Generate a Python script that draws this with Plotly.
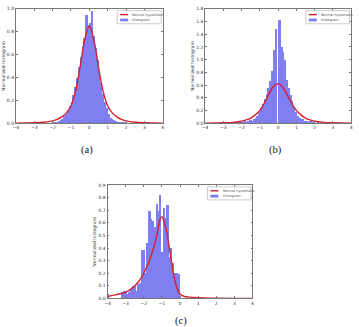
import plotly.graph_objects as go

# ---------------- data ----------------
# (a)
a_centers = [-1.95, -1.85, -1.75, -1.65, -1.55, -1.45, -1.35, -1.25, -1.15, -1.05,
             -0.95, -0.85, -0.75, -0.65, -0.55, -0.45, -0.35, -0.25, -0.15, -0.05,
             0.05, 0.15, 0.25, 0.35, 0.45, 0.55, 0.65, 0.75, 0.85, 0.95,
             1.05, 1.15, 1.25, 1.35, 1.45, 1.55, 1.65, 1.75, 1.85, 1.95]
a_hist = [0.005, 0.01, 0.015, 0.02, 0.03, 0.04, 0.06, 0.08, 0.11, 0.15,
          0.19, 0.25, 0.32, 0.40, 0.49, 0.58, 0.67, 0.75, 0.95, 0.86,
          0.88, 0.98, 0.76, 0.66, 0.55, 0.45, 0.35, 0.26, 0.19, 0.13,
          0.08, 0.05, 0.035, 0.025, 0.02, 0.015, 0.01, 0.008, 0.005, 0.004]
a_curve_x = [-4, -3.5, -3, -2.5, -2, -1.75, -1.5, -1.25, -1, -0.75, -0.5, -0.25, 0,
             0.25, 0.5, 0.75, 1, 1.25, 1.5, 1.75, 2, 2.5, 3, 3.5, 4]
a_curve_y = [0.0, 0.001, 0.003, 0.008, 0.02, 0.033, 0.055, 0.09, 0.15, 0.28, 0.49, 0.73, 0.85,
             0.73, 0.49, 0.28, 0.15, 0.09, 0.055, 0.033, 0.02, 0.008, 0.003, 0.001, 0.0]

# (b)
b_centers = [-2.4, -2.3, -2.2, -2.1, -2.0, -1.9, -1.8, -1.7, -1.6, -1.5,
             -1.4, -1.3, -1.2, -1.1, -1.0, -0.9, -0.8, -0.7, -0.6, -0.5,
             -0.4, -0.3, -0.2, -0.1, 0.0, 0.1, 0.2, 0.3, 0.4, 0.5,
             0.6, 0.7, 0.8, 0.9, 1.0, 1.1, 1.2, 1.3, 1.4, 1.5,
             1.6, 1.7, 1.8, 1.9, 2.0, 2.1, 2.2]
b_hist = [0.01, 0.0, 0.01, 0.01, 0.02, 0.01, 0.03, 0.02, 0.03, 0.05,
          0.04, 0.06, 0.08, 0.12, 0.18, 0.24, 0.30, 0.38, 0.46, 0.56,
          0.66, 0.82, 1.15, 1.48, 0.0, 1.63, 1.20, 1.13, 1.00, 0.68,
          0.56, 0.45, 0.35, 0.26, 0.18, 0.12, 0.09, 0.06, 0.06, 0.03,
          0.04, 0.02, 0.03, 0.01, 0.02, 0.0, 0.01]
b_curve_x = [-4, -3.5, -3, -2.5, -2, -1.75, -1.5, -1.25, -1, -0.75, -0.5, -0.25, 0,
             0.25, 0.5, 0.75, 1, 1.25, 1.5, 1.75, 2, 2.5, 3, 3.5, 4]
b_curve_y = [0.0, 0.002, 0.005, 0.012, 0.03, 0.05, 0.08, 0.13, 0.2, 0.32, 0.46, 0.58, 0.62,
             0.57, 0.44, 0.31, 0.2, 0.13, 0.08, 0.05, 0.03, 0.012, 0.005, 0.002, 0.0]

# (c)
c_centers = [-4.0, -3.2, -3.1, -3.0, -2.9, -2.8, -2.7, -2.6, -2.5, -2.4,
             -2.3, -2.2, -2.1, -2.0, -1.9, -1.8, -1.7, -1.6, -1.5, -1.4,
             -1.3, -1.2, -1.1, -1.0, -0.9, -0.8, -0.7, -0.6, -0.5, -0.4,
             -0.3, -0.2, -0.1]
c_hist = [0.03, 0.05, 0.06, 0.06, 0.03, 0.05, 0.07, 0.10, 0.10, 0.06,
          0.11, 0.12, 0.38, 0.38, 0.20, 0.44, 0.69, 0.63, 0.61, 0.57,
          0.75, 0.69, 0.82, 0.37, 0.72, 0.64, 0.74, 0.33, 0.40, 0.28,
          0.20, 0.20, 0.19]
c_curve_x = [-4, -3.5, -3, -2.75, -2.5, -2.25, -2, -1.75, -1.5, -1.25, -1.1, -1.0,
             -0.9, -0.75, -0.5, -0.25, 0, 0.25, 0.5, 1, 2, 3, 4]
c_curve_y = [0.015, 0.03, 0.05, 0.07, 0.10, 0.14, 0.20, 0.28, 0.38, 0.52, 0.63, 0.65,
             0.62, 0.54, 0.32, 0.12, 0.035, 0.015, 0.01, 0.005, 0.002, 0.0, 0.0]

x_ticks = [-4, -3, -2, -1, 0, 1, 2, 3, 4]
a_yticks = [0.0, 0.2, 0.4, 0.6, 0.8, 1.0]
b_yticks = [0.0, 0.2, 0.4, 0.6, 0.8, 1.0, 1.2, 1.4, 1.6, 1.8]
c_yticks = [0.0, 0.1, 0.2, 0.3, 0.4, 0.5, 0.6, 0.7, 0.8, 0.9]
captions = ["(a)", "(b)", "(c)"]
legend_names = ["Normal hypothesis", "Histogram"]

# ---------------- layout ----------------
W, H = 359, 327
BAR = "#7f7ff2"
RED = "#d42030"
AXC = "#777777"

panels = [
    ("", (13, 162), (7, 123), 1.0, a_yticks, a_centers, a_hist, a_curve_x, a_curve_y),
    ("2", (205, 353), (7, 123), 1.8, b_yticks, b_centers, b_hist, b_curve_x, b_curve_y),
    ("3", (106, 253), (186, 301), 0.9, c_yticks, c_centers, c_hist, c_curve_x, c_curve_y),
]

fig = go.Figure()
layout = dict(width=W, height=H, margin=dict(l=0, r=0, t=0, b=0),
              paper_bgcolor="white", plot_bgcolor="white", showlegend=False,
              font=dict(family="DejaVu Sans", color="#333333"))
annotations = []
shapes = []

for sid, (x0, x1), (y0, y1), ymax, yt, cx, cy, kx, ky in panels:
    xa = "x" + sid
    ya = "y" + sid
    fig.add_trace(go.Bar(x=cx, y=cy, width=0.1, marker=dict(color=BAR, line=dict(width=0)),
                         xaxis=xa, yaxis=ya, name=legend_names[1]))
    fig.add_trace(go.Scatter(x=kx, y=ky, mode="lines", line=dict(color=RED, width=1.4, shape="spline"),
                             xaxis=xa, yaxis=ya, name=legend_names[0]))
    layout["xaxis" + sid] = dict(domain=[x0 / W, x1 / W], range=[-4, 4], anchor=ya,
                                 tickvals=x_ticks, ticktext=[("\u2212%d" % -v) if v < 0 else "%d" % v for v in x_ticks],
                                 ticks="inside", ticklen=2, tickcolor=AXC, tickwidth=0.6,
                                 showline=True, mirror="ticks", linecolor=AXC, linewidth=0.8,
                                 showgrid=False, zeroline=False, tickfont=dict(size=4.5))
    layout["yaxis" + sid] = dict(domain=[1 - y1 / H, 1 - y0 / H], range=[0, ymax], anchor=xa,
                                 tickvals=yt, ticktext=["%.1f" % v for v in yt],
                                 ticks="inside", ticklen=2, tickcolor=AXC, tickwidth=0.6,
                                 showline=True, mirror="ticks", linecolor=AXC, linewidth=0.8,
                                 showgrid=False, zeroline=False, tickfont=dict(size=4.5),
                                 title=dict(text="Normalized histogram", font=dict(size=4.5), standoff=1))
    xr, yr = xa + " domain", ya + " domain"
    shapes.append(dict(type="rect", xref=xr, yref=yr, x0=0.69, x1=0.99, y0=0.87, y1=0.985,
                       line=dict(color="#aaaaaa", width=0.6), fillcolor="white", layer="above"))
    shapes.append(dict(type="line", xref=xr, yref=yr, x0=0.71, x1=0.765, y0=0.95, y1=0.95,
                       line=dict(color=RED, width=1.4), layer="above"))
    shapes.append(dict(type="rect", xref=xr, yref=yr, x0=0.71, x1=0.765, y0=0.89, y1=0.915,
                       line=dict(width=0), fillcolor=BAR, layer="above"))
    annotations.append(dict(xref=xr, yref=yr, x=0.78, y=0.95, text=legend_names[0], showarrow=False,
                            xanchor="left", yanchor="middle", font=dict(size=3.4, color="#555555")))
    annotations.append(dict(xref=xr, yref=yr, x=0.78, y=0.9, text=legend_names[1], showarrow=False,
                            xanchor="left", yanchor="middle", font=dict(size=3.4, color="#555555")))

for txt, (cx_, cy_) in zip(captions, [(85, 150), (276, 150), (181, 324)]):
    annotations.append(dict(xref="paper", yref="paper", x=cx_ / W, y=1 - cy_ / H, text=txt,
                            showarrow=False, xanchor="center", yanchor="middle",
                            font=dict(family="Liberation Serif, serif", size=10.5, color="#111111")))

layout["annotations"] = annotations
layout["shapes"] = shapes
layout["bargap"] = 0
fig.update_layout(**layout)
fig.write_html("out.html")
